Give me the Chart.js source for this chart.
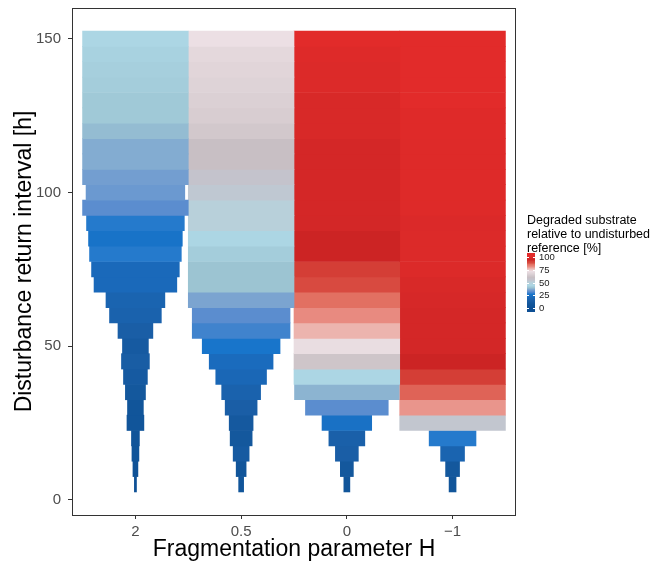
<!DOCTYPE html>
<html>
<head>
<meta charset="utf-8">
<script src="https://cdn.jsdelivr.net/npm/chart.js@4.4.1/dist/chart.umd.min.js"></script>
<style>
  html, body { margin: 0; padding: 0; background: #fff; }
</style>
</head>
<body>
<canvas id="myChart" width="655" height="562"></canvas>
<script>
// return interval rows (h)
const returnInterval = [5, 10, 15, 20, 25, 30, 35, 40, 45, 50, 55, 60, 65, 70, 75,
  80, 85, 90, 95, 100, 105, 110, 115, 120, 125, 130, 135, 140, 145, 150];

const categories = ['2', '0.5', '0', '\u22121'];
const centers = [1, 2, 3, 4];
const yTicks = [0, 50, 100, 150];
const legendTicks = [0, 25, 50, 75, 100];

// relative width of each row (1 = full slot)
const spreadH2 = [0.02, 0.047, 0.066, 0.075, 0.16, 0.15, 0.19, 0.226, 0.264, 0.245, 0.33, 0.49, 0.557, 0.783, 0.83,
  0.868, 0.887, 0.925, 1, 0.934, 1, 1, 1, 1, 1, 1, 1, 1, 1, 1];
const spreadH05 = [0.047, 0.094, 0.151, 0.208, 0.226, 0.302, 0.368, 0.48, 0.604, 0.736, 0.925, 0.925, 1, 1, 1,
  1, 1, 1, 1, 1, 1, 1, 1, 1, 1, 1, 1, 1, 1, 1];
const spreadH0 = [0.057, 0.123, 0.217, 0.34, 0.47, 0.783, 0.99, 1, 1, 1, 1, 1, 1, 1, 1,
  1, 1, 1, 1, 1, 1, 1, 1, 1, 1, 1, 1, 1, 1, 1];
const spreadHm1 = [0.066, 0.132, 0.226, 0.443, 1, 1, 1, 1, 1, 1, 1, 1, 1, 1, 1,
  1, 1, 1, 1, 1, 1, 1, 1, 1, 1, 1, 1, 1, 1, 1];

// degraded substrate relative to undisturbed reference [%]
const degH2 = [3, 4, 6, 7, 8, 8, 10, 12, 14, 12, 15, 17, 18, 21, 21,
  28, 26, 28, 32, 34, 35, 37, 37, 39, 41, 41, 42, 42.5, 43, 44];
const degH05 = [8, 8, 12, 10, 11, 15, 17, 20, 22, 27, 30, 32, 36, 40, 40,
  42, 44, 50, 50, 53, 55, 60, 60, 63, 65, 66, 67, 68, 69, 72];
const degH0 = [8, 10, 15, 16, 25, 32, 38, 44, 62, 71, 77, 81, 85, 88, 91,
  94, 94, 96, 96.5, 96.5, 96.5, 96.5, 96.5, 97.5, 97.5, 97.5, 98.5, 98.5, 99, 100];
const degHm1 = [8, 10, 18, 28, 54, 80, 86, 91, 94, 96, 96.5, 96.5, 97, 97.5, 98.5,
  98.5, 98.5, 98.3, 99, 99, 99, 99, 99, 99.2, 99.2, 100, 100, 100, 100, 100];

const legendTitle = ['Degraded substrate', 'relative to undisturbed', 'reference [%]'];

const palette = [
  [0, '#0d4f94'], [8, '#11559a'], [15, '#1a5ea6'], [22, '#1a6bbd'], [27, '#1875cb'],
  [32, '#5b8dcf'], [36, '#7ba4d0'], [40, '#9cc4d2'], [44, '#acd6e4'], [50, '#b8d0da'],
  [55, '#c4c3cc'], [60, '#c8bfc4'], [66, '#dbd0d4'], [72, '#ecdfe4'], [77, '#ecb4ae'],
  [81, '#e88a80'], [85, '#e27062'], [88, '#d84a40'], [91, '#d43e36'], [94, '#cc2424'],
  [97, '#d62828'], [100, '#e22b2a']
];

function hexToRgb(h) {
  const n = parseInt(h.slice(1), 16);
  return [(n >> 16) & 255, (n >> 8) & 255, n & 255];
}

function fillFor(v) {
  v = Math.max(0, Math.min(100, v));
  for (let i = 1; i < palette.length; i++) {
    if (v <= palette[i][0]) {
      const a = hexToRgb(palette[i - 1][1]);
      const b = hexToRgb(palette[i][1]);
      const t = (v - palette[i - 1][0]) / (palette[i][0] - palette[i - 1][0]);
      return 'rgb(' + a.map((x, k) => Math.round(x + (b[k] - x) * t)).join(',') + ')';
    }
  }
  return palette[palette.length - 1][1];
}

function makeRows(spread, center) {
  return returnInterval.map((v, i) => ({ y: v, x: [center - spread[i] / 2, center + spread[i] / 2] }));
}

function makeDataset(spread, deg, center) {
  return {
    data: makeRows(spread, center),
    backgroundColor: deg.map(fillFor),
    borderWidth: 0,
    barPercentage: 1,
    categoryPercentage: 1,
    grouped: false
  };
}

const panelBorder = {
  id: 'panelBorder',
  afterDatasetsDraw(chart) {
    const ctx = chart.ctx;
    const a = chart.chartArea;
    ctx.save();
    ctx.strokeStyle = '#333';
    ctx.lineWidth = 1;
    ctx.strokeRect(a.left + 0.5, a.top + 0.5, a.right - a.left - 1, a.bottom - a.top);
    ctx.restore();
  }
};

const colourBar = {
  id: 'colourBar',
  afterDraw(chart) {
    const ctx = chart.ctx;
    const x0 = 527, x1 = 535, top = 253, bottom = 312;
    const y0 = 308.3, y100 = 256.7;
    ctx.save();
    ctx.fillStyle = '#000';
    ctx.font = '12.5px "Liberation Sans", Arial, sans-serif';
    ctx.textBaseline = 'alphabetic';
    legendTitle.forEach((t, i) => ctx.fillText(t, 527, 224 + i * 14));

    for (let y = top; y < bottom; y++) {
      const v = (y0 - (y + 0.5)) / (y0 - y100) * 100;
      ctx.fillStyle = fillFor(v);
      ctx.fillRect(x0, y, x1 - x0, 1);
    }

    ctx.strokeStyle = '#fff';
    ctx.lineWidth = 1;
    ctx.font = '9.5px "Liberation Sans", Arial, sans-serif';
    ctx.textBaseline = 'middle';
    ctx.fillStyle = '#1a1a1a';
    legendTicks.forEach(t => {
      const y = Math.round(y0 - (y0 - y100) * t / 100) + 0.5;
      ctx.beginPath();
      ctx.moveTo(x0, y); ctx.lineTo(x0 + 2, y);
      ctx.moveTo(x1 - 2, y); ctx.lineTo(x1, y);
      ctx.stroke();
      ctx.fillText(String(t), 539, y);
    });
    ctx.restore();
  }
};

const ctx = document.getElementById('myChart').getContext('2d');

const chart = new Chart(ctx, {
  type: 'bar',
  data: {
    datasets: [
      makeDataset(spreadH2, degH2, centers[0]),
      makeDataset(spreadH05, degH05, centers[1]),
      makeDataset(spreadH0, degH0, centers[2]),
      makeDataset(spreadHm1, degHm1, centers[3])
    ]
  },
  options: {
    indexAxis: 'y',
    responsive: false,
    animation: false,
    devicePixelRatio: 1,
    layout: { padding: { left: 0, right: 139, top: 8, bottom: 0 } },
    plugins: {
      legend: { display: false },
      tooltip: { enabled: false }
    },
    scales: {
      x: {
        type: 'linear',
        min: 0.4,
        max: 4.6,
        offset: false,
        afterBuildTicks: (scale) => { scale.ticks = centers.map(v => ({ value: v })); },
        afterFit: (scale) => {
          scale.height = 47;
          scale.paddingLeft = 0;
          scale.paddingRight = 0;
        },
        grid: { drawOnChartArea: false, drawTicks: true, tickLength: 4, color: '#333', offset: false },
        border: { display: false },
        ticks: {
          autoSkip: false,
          maxRotation: 0,
          padding: 4,
          color: '#4d4d4d',
          font: { family: '"Liberation Sans", Arial, sans-serif', size: 15 },
          callback: (v) => categories[centers.indexOf(v)]
        },
        title: {
          display: true,
          text: 'Fragmentation parameter H',
          color: '#000',
          font: { family: '"Liberation Sans", Arial, sans-serif', size: 23, lineHeight: 1.1 },
          padding: { top: 0, bottom: 0 }
        }
      },
      y: {
        type: 'linear',
        min: -5,
        max: 160,
        offset: false,
        afterBuildTicks: (scale) => { scale.ticks = yTicks.map(v => ({ value: v })); },
        afterFit: (scale) => {
          scale.width = 72;
          scale.paddingTop = 0;
          scale.paddingBottom = 0;
        },
        grid: { drawOnChartArea: false, drawTicks: true, tickLength: 4, color: '#333', offset: false },
        border: { display: false },
        ticks: {
          padding: 7,
          color: '#4d4d4d',
          font: { family: '"Liberation Sans", Arial, sans-serif', size: 15 }
        },
        title: {
          display: true,
          text: 'Disturbance return interval [h]',
          color: '#000',
          font: { family: '"Liberation Sans", Arial, sans-serif', size: 23 },
          padding: { top: 11, bottom: 0 }
        }
      }
    }
  },
  plugins: [panelBorder, colourBar]
});
</script>
</body>
</html>
